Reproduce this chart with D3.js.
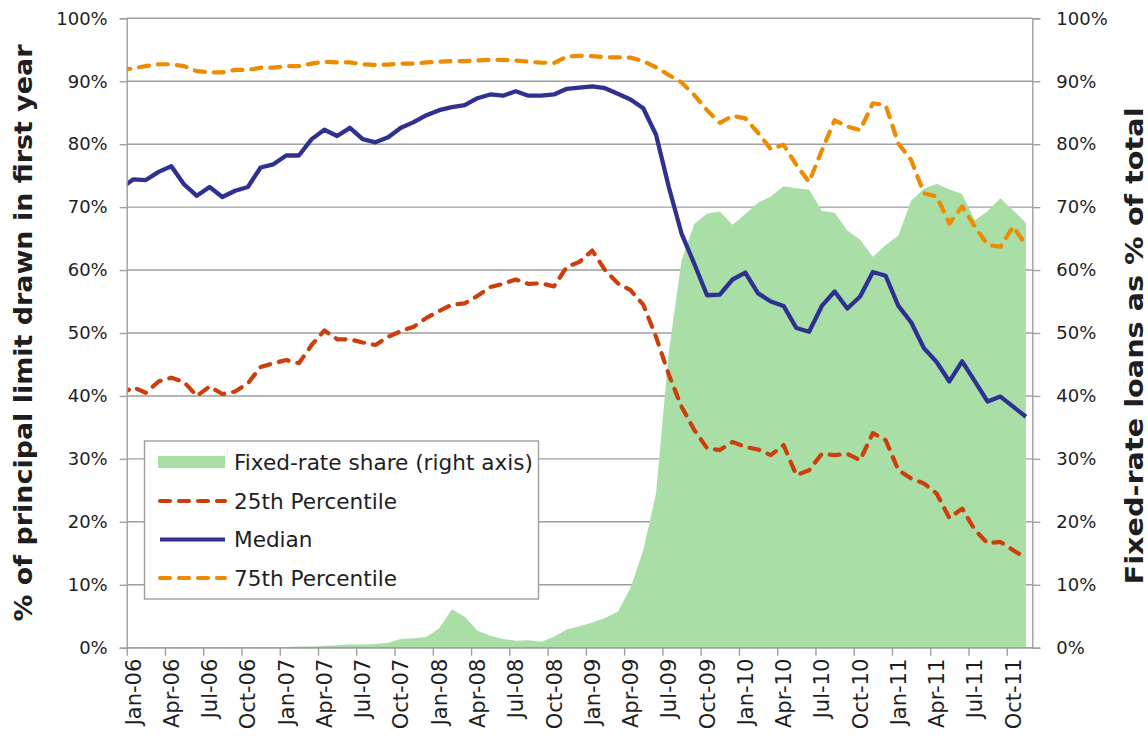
<!DOCTYPE html>
<html><head><meta charset="utf-8">
<script src="https://cdn.jsdelivr.net/npm/d3@7"></script>
<style>
html,body{margin:0;padding:0;background:#fff;}
text{font-family:"DejaVu Sans",Verdana,sans-serif;fill:#1e1e1e;}
</style></head>
<body>
<svg id="chart" width="1148" height="738"></svg>
<script>
// Months (first entry is the partly clipped month before the axis starts)
const months = ["Dec-05",
 "Jan-06","Feb-06","Mar-06","Apr-06","May-06","Jun-06","Jul-06","Aug-06","Sep-06","Oct-06","Nov-06","Dec-06",
 "Jan-07","Feb-07","Mar-07","Apr-07","May-07","Jun-07","Jul-07","Aug-07","Sep-07","Oct-07","Nov-07","Dec-07",
 "Jan-08","Feb-08","Mar-08","Apr-08","May-08","Jun-08","Jul-08","Aug-08","Sep-08","Oct-08","Nov-08","Dec-08",
 "Jan-09","Feb-09","Mar-09","Apr-09","May-09","Jun-09","Jul-09","Aug-09","Sep-09","Oct-09","Nov-09","Dec-09",
 "Jan-10","Feb-10","Mar-10","Apr-10","May-10","Jun-10","Jul-10","Aug-10","Sep-10","Oct-10","Nov-10","Dec-10",
 "Jan-11","Feb-11","Mar-11","Apr-11","May-11","Jun-11","Jul-11","Aug-11","Sep-11","Oct-11","Nov-11"];

const tickLabels = ["Jan-06","Apr-06","Jul-06","Oct-06","Jan-07","Apr-07","Jul-07","Oct-07",
 "Jan-08","Apr-08","Jul-08","Oct-08","Jan-09","Apr-09","Jul-09","Oct-09",
 "Jan-10","Apr-10","Jul-10","Oct-10","Jan-11","Apr-11","Jul-11","Oct-11"];

const yTicks = [0,10,20,30,40,50,60,70,80,90,100];

// % of principal limit drawn in first year
const median = [72.9,
 74.4,74.3,75.6,76.5,73.6,71.8,73.2,71.6,72.6,73.2,76.3,76.8,
 78.2,78.2,80.8,82.3,81.3,82.6,80.8,80.3,81.1,82.6,83.5,84.6,
 85.4,85.9,86.2,87.3,87.9,87.7,88.4,87.7,87.7,87.9,88.8,89.0,
 89.2,88.9,88.0,87.1,85.7,81.5,73.2,65.8,61.0,56.0,56.1,58.5,
 59.6,56.3,55.0,54.3,50.8,50.2,54.3,56.6,53.9,55.8,59.7,59.1,
 54.3,51.7,47.6,45.4,42.3,45.5,42.3,39.1,39.9,38.3,36.7];

const p25 = [40.2,
 41.4,40.5,42.3,42.9,42.2,40.0,41.5,40.3,40.7,42.0,44.6,45.2,
 45.7,45.2,48.1,50.4,49.0,49.0,48.5,48.1,49.4,50.3,51.0,52.4,
 53.5,54.5,54.7,55.9,57.3,57.8,58.5,57.8,57.9,57.4,60.5,61.3,
 63.1,60.0,57.9,56.8,54.5,49.4,43.4,38.3,34.6,31.7,31.4,32.7,
 31.9,31.5,30.6,32.2,27.4,28.2,30.8,30.6,30.8,29.8,34.1,33.0,
 28.2,26.9,26.1,24.5,20.6,22.1,18.7,16.6,16.8,15.5,14.2];

const p75 = [91.75,
 92.05,92.4,92.7,92.7,92.4,91.6,91.4,91.4,91.8,91.8,92.15,92.15,
 92.4,92.4,92.8,93.1,93.0,93.0,92.7,92.6,92.65,92.8,92.8,93.0,
 93.1,93.2,93.2,93.3,93.4,93.4,93.3,93.1,92.95,92.9,93.9,94.05,
 94.0,93.8,93.8,93.75,93.2,92.2,91.0,89.8,87.8,85.4,83.4,84.5,
 84.1,81.8,79.2,79.9,76.7,74.0,79.0,83.8,82.8,82.25,86.5,86.2,
 80.1,77.5,72.2,71.7,67.4,70.1,66.9,64.0,63.7,66.9,64.0];

// Fixed-rate loans as % of total (right axis)
const fixedShare = [0,
 0,0,0,0,0,0.1,0.1,0.1,0.1,0,0,0,
 0.1,0.2,0.2,0.3,0.4,0.5,0.5,0.6,0.8,1.4,1.5,1.7,
 3.1,6.1,4.9,2.7,1.9,1.4,1.1,1.2,0.95,1.75,2.9,3.4,
 4.0,4.7,5.7,9.5,15.5,24.5,47,61.5,67.3,69.0,69.3,67.2,
 68.9,70.7,71.7,73.3,73.0,72.8,69.4,69.1,66.3,64.8,62.1,64.0,
 65.5,71.0,72.9,73.7,72.8,72.1,67.9,69.4,71.4,69.5,67.5];

const seriesNames = ["Fixed-rate share (right axis)","25th Percentile","Median","75th Percentile"];
const colors = {fixed:"#a9dfa7", p25:"#cc3f0c", median:"#2e3191", p75:"#ee8b00"};

const svg = d3.select("#chart");
const L = 126.7, R = 1032.3, T = 18.3, B = 647.7;

const x = d3.scaleLinear().domain([0.5, months.length - 0.5]).range([L, R]);
const y = d3.scaleLinear().domain([0, 100]).range([B, T]);
const yR = d3.scaleLinear().domain([0, 100]).range([B, T]);

const gridColor = "#9f9f9f";
const dash = "10,9";

// gridlines
svg.append("g").selectAll("line").data(yTicks).join("line")
  .attr("x1", L).attr("x2", R)
  .attr("y1", d => y(d)).attr("y2", d => y(d))
  .attr("stroke", gridColor).attr("stroke-width", 1.4);

// clip
svg.append("clipPath").attr("id","plotclip").append("rect")
  .attr("x", L).attr("y", 0).attr("width", R - L).attr("height", B + 2);

const plot = svg.append("g").attr("clip-path","url(#plotclip)");

// area
const area = d3.area().x((d,i)=>x(i)).y0(yR(0)).y1(d=>yR(d));
plot.append("path").datum(fixedShare).attr("d", area).attr("fill", colors.fixed);

// lines
const line = d3.line().x((d,i)=>x(i)).y(d=>y(d));
plot.append("path").datum(p25).attr("d", line).attr("fill","none")
  .attr("stroke", colors.p25).attr("stroke-width", 4.2).attr("stroke-dasharray",dash)
  .attr("stroke-linecap","round").attr("stroke-linejoin","round");
plot.append("path").datum(median).attr("d", line).attr("fill","none")
  .attr("stroke", colors.median).attr("stroke-width", 4.3)
  .attr("stroke-linejoin","round");
plot.append("path").datum(p75).attr("d", line).attr("fill","none")
  .attr("stroke", colors.p75).attr("stroke-width", 4.2).attr("stroke-dasharray",dash)
  .attr("stroke-linecap","round").attr("stroke-linejoin","round");

// axes
const fmt = d => d + "%";
const gl = svg.append("g").attr("transform", `translate(${L},0)`)
  .call(d3.axisLeft(y).tickValues(yTicks).tickSize(7).tickPadding(12).tickFormat(fmt));
const gr = svg.append("g").attr("transform", `translate(${R},0)`)
  .call(d3.axisRight(yR).tickValues(yTicks).tickSize(8).tickPadding(16).tickFormat(fmt));
[gl, gr].forEach(g => {
  g.select(".domain").attr("stroke", gridColor).attr("stroke-width", 1.4);
  g.selectAll(".tick line").attr("stroke", gridColor).attr("stroke-width", 1.4);
  g.selectAll(".tick text").style("font-size","18px").attr("fill","#1e1e1e");
});

const tickIdx = tickLabels.map(t => months.indexOf(t));
const gb = svg.append("g").attr("transform", `translate(0,${B})`)
  .call(d3.axisBottom(x).tickValues(tickIdx.map(i => i - 0.5)).tickSize(8).tickFormat(""));
gb.select(".domain").attr("d", `M${L},0H${R}`).attr("stroke", gridColor).attr("stroke-width", 1.4);
gb.selectAll(".tick line").attr("stroke", gridColor).attr("stroke-width", 1.4);

svg.append("g").selectAll("text").data(tickLabels).join("text")
  .attr("transform", d => `translate(${x(months.indexOf(d))},${B + 11}) rotate(-90)`)
  .attr("text-anchor","end").attr("dy","0.36em")
  .style("font-size","21px").text(d => d);

// axis titles
svg.append("text")
  .attr("transform", `translate(32,${(T + B) / 2}) rotate(-90)`)
  .attr("text-anchor","middle")
  .attr("textLength", 577).attr("lengthAdjust","spacingAndGlyphs")
  .style("font-size","25px").style("font-weight","bold")
  .text("% of principal limit drawn in first year");
svg.append("text")
  .attr("transform", `translate(1143,346) rotate(-90)`)
  .attr("text-anchor","middle")
  .attr("textLength", 477).attr("lengthAdjust","spacingAndGlyphs")
  .style("font-size","25px").style("font-weight","bold")
  .text("Fixed-rate loans as % of total");

// legend
const lg = svg.append("g");
lg.append("rect").attr("x",144.5).attr("y",441).attr("width",394).attr("height",158)
  .attr("fill","#fff").attr("stroke", gridColor).attr("stroke-width",1.4);
const legendRows = [
  {name: seriesNames[0], type:"area", color: colors.fixed, y: 462},
  {name: seriesNames[1], type:"dash", color: colors.p25, y: 501},
  {name: seriesNames[2], type:"solid", color: colors.median, y: 539.5},
  {name: seriesNames[3], type:"dash", color: colors.p75, y: 578}
];
legendRows.forEach(r => {
  if (r.type === "area") {
    lg.append("rect").attr("x",158).attr("y",r.y - 6).attr("width",67).attr("height",12).attr("fill", r.color);
  } else {
    const ln = lg.append("line").attr("x1",160).attr("x2",225).attr("y1",r.y).attr("y2",r.y)
      .attr("stroke", r.color).attr("stroke-width",4.2);
    if (r.type === "dash") ln.attr("stroke-dasharray",dash).attr("stroke-linecap","round");
  }
  lg.append("text").attr("x",234).attr("y",r.y).attr("dy","0.36em")
    .style("font-size","21.6px").text(r.name);
});
</script>
</body></html>
